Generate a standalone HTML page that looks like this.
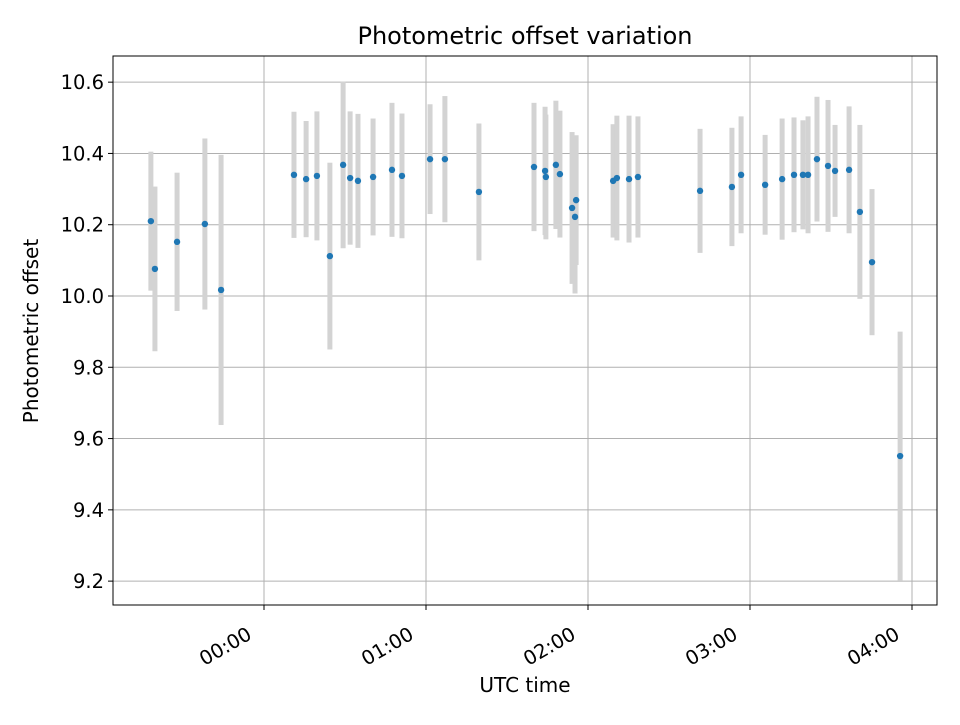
<!DOCTYPE html>
<html><head><meta charset="utf-8"><style>
body{margin:0;background:#fff;font-family:"Liberation Sans","DejaVu Sans",sans-serif}
</style></head><body>
<svg id="chart" width="960" height="720" xmlns="http://www.w3.org/2000/svg" font-family="'DejaVu Sans','Liberation Sans',sans-serif">
<rect width="960" height="720" fill="#fff"/>
<g id="grid"></g>
<g id="bars"></g>
<g id="pts"></g>
<rect x="113" y="56" width="824" height="549" fill="none" stroke="#000" stroke-width="1"/>
<g id="axes"></g>
<text x="525" y="44" text-anchor="middle" font-size="24">Photometric offset variation</text>
<text x="525" y="692" text-anchor="middle" font-size="20">UTC time</text>
<text transform="translate(38,331) rotate(-90)" text-anchor="middle" font-size="20">Photometric offset</text>
</svg>
<script>
const times=[-41.9,-40.4,-32.2,-21.9,-15.9,11.1,15.6,19.6,24.4,29.3,31.9,34.8,40.4,47.4,51.1,61.5,67.0,79.6,100.0,104.1,104.4,108.1,109.6,114.1,115.2,115.6,129.3,130.7,135.2,138.5,161.5,173.3,176.7,185.6,191.9,196.3,199.6,201.5,204.8,208.9,211.5,216.7,220.7,225.2,235.6];
const values=[10.210,10.076,10.152,10.202,10.017,10.340,10.328,10.337,10.112,10.368,10.331,10.323,10.334,10.354,10.337,10.384,10.384,10.292,10.362,10.351,10.334,10.368,10.342,10.247,10.222,10.269,10.323,10.331,10.328,10.334,10.295,10.306,10.340,10.312,10.328,10.340,10.340,10.340,10.384,10.365,10.351,10.354,10.236,10.095,9.551];
const errors=[0.195,0.231,0.194,0.240,0.379,0.177,0.163,0.181,0.262,0.234,0.187,0.188,0.164,0.188,0.175,0.154,0.177,0.192,0.180,0.180,0.175,0.180,0.178,0.213,0.215,0.182,0.159,0.175,0.178,0.170,0.174,0.166,0.164,0.140,0.170,0.161,0.153,0.164,0.175,0.185,0.129,0.178,0.244,0.205,0.349];
const yTicks=[9.2,9.4,9.6,9.8,10.0,10.2,10.4,10.6];
const xTicks=[0,60,120,180,240];
const xTickLabels=["00:00","01:00","02:00","03:00","04:00"];
const NS="http://www.w3.org/2000/svg";
const X=m=>264+m*2.7;
const Y=v=>296-(v-10)*356.4;
function mk(tag,attrs,parent){const e=document.createElementNS(NS,tag);for(const k in attrs)e.setAttribute(k,attrs[k]);document.getElementById(parent).appendChild(e);return e;}
yTicks.forEach((t,i)=>{
 const y=Y(t);
 const g=mk('line',{x1:113,x2:937,y1:y,y2:y,stroke:'#b0b0b0','stroke-width':1},'grid');
 
 
 const tk=mk('line',{x1:108,x2:113,y1:y,y2:y,stroke:'#000'},'axes');
 
 
 const tx=mk('text',{x:104,y:y+7,'text-anchor':'end','font-size':19.5},'axes');
 tx.textContent=t.toFixed(1);
 
 
});
xTicks.forEach((t,i)=>{
 const x=X(t);
 const g=mk('line',{x1:x,x2:x,y1:56,y2:605,stroke:'#b0b0b0','stroke-width':1},'grid');
 
 
 const tk=mk('line',{x1:x,x2:x,y1:605,y2:610,stroke:'#000'},'axes');
 
 
 const tx=mk('text',{transform:`translate(${x-11},${638}) rotate(-30)`,'text-anchor':'end','font-size':19.5},'axes');
 tx.textContent=xTickLabels[i];
 
 
});
times.forEach((t,i)=>{
 const x=X(t);
 const b=mk('rect',{x:x-2.5,y:Y(values[i]+errors[i]),width:5,height:Y(values[i]-errors[i])-Y(values[i]+errors[i]),fill:'#d3d3d3'},'bars');
 
 
});
times.forEach((t,i)=>{
 const c=mk('circle',{cx:X(t),cy:Y(values[i]),r:3.2,fill:'#1f77b4'},'pts');
 
 
});
</script>
</body></html>
